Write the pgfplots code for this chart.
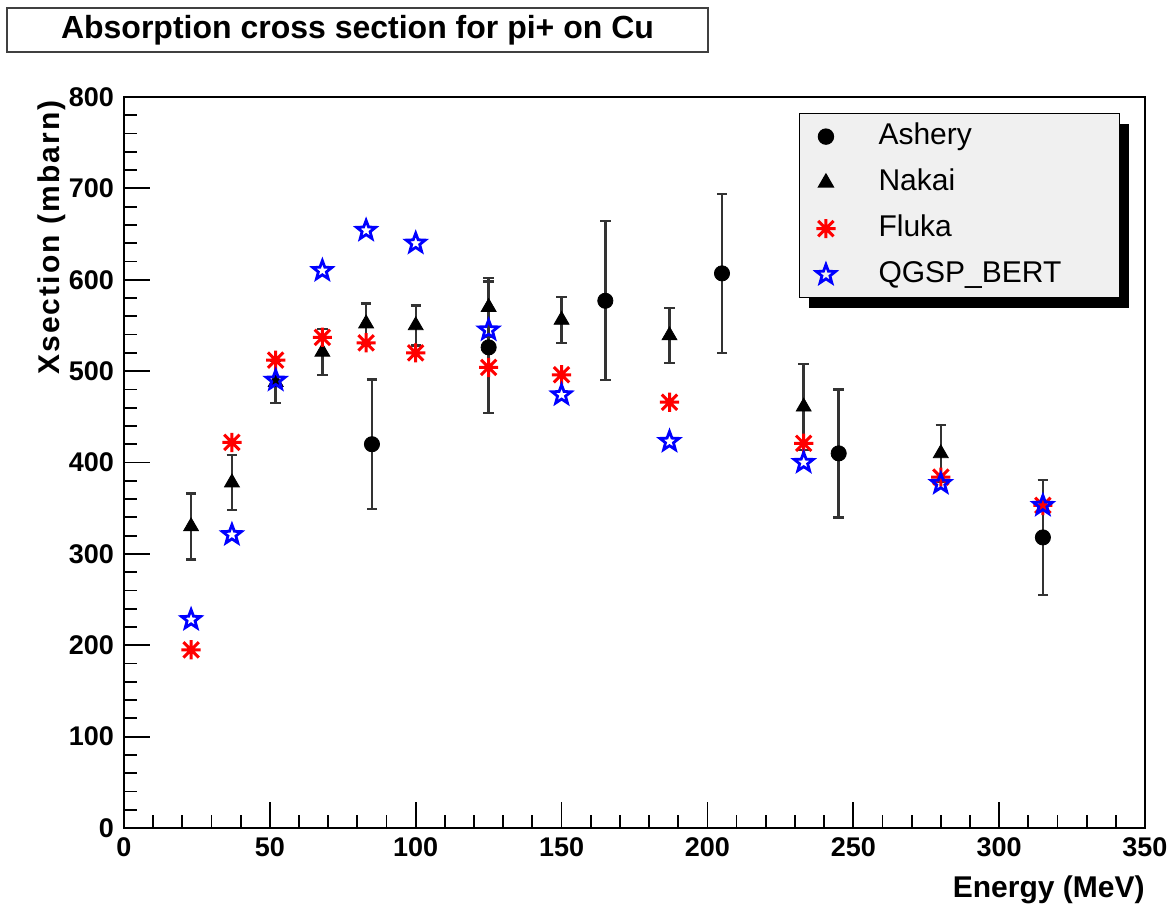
\documentclass[border=0pt]{standalone}
\usepackage{fontspec}
\setmainfont{Liberation Sans}
\usepackage{pgfplots}
\pgfplotsset{compat=1.18}
\usetikzlibrary{shadows}

\pgfdeclareplotmark{rootstar}{%
  \pgfpathmoveto{\pgfqpoint{-\pgfplotmarksize}{0pt}}%
  \pgfpathlineto{\pgfqpoint{\pgfplotmarksize}{0pt}}%
  \pgfpathmoveto{\pgfqpoint{0pt}{-\pgfplotmarksize}}%
  \pgfpathlineto{\pgfqpoint{0pt}{\pgfplotmarksize}}%
  \pgfpathmoveto{\pgfqpoint{-0.8\pgfplotmarksize}{-0.8\pgfplotmarksize}}%
  \pgfpathlineto{\pgfqpoint{0.8\pgfplotmarksize}{0.8\pgfplotmarksize}}%
  \pgfpathmoveto{\pgfqpoint{-0.8\pgfplotmarksize}{0.8\pgfplotmarksize}}%
  \pgfpathlineto{\pgfqpoint{0.8\pgfplotmarksize}{-0.8\pgfplotmarksize}}%
  \pgfusepathqstroke}

\pgfdeclareplotmark{ostar}{%
  \pgfpathmoveto{\pgfpointpolar{90}{\pgfplotmarksize}}%
  \pgfpathlineto{\pgfpointpolar{126}{0.42\pgfplotmarksize}}%
  \pgfpathlineto{\pgfpointpolar{162}{\pgfplotmarksize}}%
  \pgfpathlineto{\pgfpointpolar{198}{0.42\pgfplotmarksize}}%
  \pgfpathlineto{\pgfpointpolar{234}{\pgfplotmarksize}}%
  \pgfpathlineto{\pgfpointpolar{270}{0.42\pgfplotmarksize}}%
  \pgfpathlineto{\pgfpointpolar{306}{\pgfplotmarksize}}%
  \pgfpathlineto{\pgfpointpolar{342}{0.42\pgfplotmarksize}}%
  \pgfpathlineto{\pgfpointpolar{18}{\pgfplotmarksize}}%
  \pgfpathlineto{\pgfpointpolar{54}{0.42\pgfplotmarksize}}%
  \pgfpathclose\pgfusepathqstroke}

\pgfplotstableread{
x y e
85 420 71
125 526 72
165 577 87
205 607 87
245 410 70
315 318 63
}\ashery

\pgfplotstableread{
x y e
23 330 36
37 378 30
52 488 23
68 521 25
83 552 22
100 550 22
125 570 32
150 556 25
187 539 30
233 461 47
280 410 31
}\nakai

\pgfplotstableread{
x y
23 195
37 422
52 512
68 537
83 531
100 520
125 504
150 496
187 466
233 421
280 384
315 353
}\fluka

\pgfplotstableread{
x y
23 228
37 321
52 490
68 610
83 654
100 640
125 545
150 474
187 423
233 400
280 377
315 353
}\qgsp

\begin{document}
\begin{tikzpicture}
\begin{axis}[
  scale only axis, width=510.5pt, height=365.5pt,
  xmin=0, xmax=350, ymin=0, ymax=800,
  xtick distance=50, ytick distance=100,
  minor x tick num=4, minor y tick num=4,
  tick pos=left, tick align=inside,
  major tick length=13pt, minor tick length=6.5pt,
  axis line style={line width=1pt},
  every tick/.style={black, line width=0.9pt},
  tick label style={font=\fontsize{13.5}{16}\selectfont\bfseries},
  /pgf/number format/assume math mode=true,
  xticklabel style={yshift=-1.5pt},
  yticklabel style={xshift=-1.5pt},
  xlabel={Energy (MeV)}, ylabel={Xsection (mbarn)},
  every axis x label/.style={at={(axis description cs:1,0)}, anchor=base east, yshift=-35pt, inner sep=0pt, font=\fontsize{15}{18}\selectfont\bfseries},
  every axis y label/.style={at={(axis description cs:-0.0627,0.996)}, rotate=90, anchor=base east, inner sep=0pt, font=\fontsize{15}{18}\selectfont\bfseries\addfontfeatures{LetterSpace=7}},
  legend cell align=left,
  legend style={at={(1,1)}, anchor=north east, xshift=-12.5pt, yshift=-8pt,
    fill=black!6, draw=black, line width=0.6pt,
    inner xsep=8.5pt, inner ysep=2.5pt, row sep=5pt, column sep=19.5pt,
    nodes={inner sep=2pt, text height=11pt, text depth=3pt},
    font=\fontsize{15}{18}\selectfont,
    drop shadow={shadow xshift=5pt, shadow yshift=-5pt, fill=black, opacity=1}},
]
\addplot[only marks, mark=*, mark size=3.8pt, black,
  error bars/.cd, y dir=both, y explicit,
  error bar style={line width=1.2pt, black!80},
  error mark options={rotate=90, mark size=2.6pt, line width=1.2pt, black!80}]
  table[x=x, y=y, y error=e] {\ashery};
\addlegendentry{Ashery}
\addplot[only marks, mark=triangle*, mark size=4.3pt, black,
  error bars/.cd, y dir=both, y explicit,
  error bar style={line width=1.2pt, black!80},
  error mark options={rotate=90, mark size=2.6pt, line width=1.2pt, black!80}]
  table[x=x, y=y, y error=e] {\nakai};
\addlegendentry{Nakai}
\addplot[only marks, mark=rootstar, mark size=4.8pt, red, mark options={line width=1.5pt}]
  table[x=x, y=y] {\fluka};
\addlegendentry{Fluka}
\addplot[only marks, mark=ostar, mark size=5pt, blue, mark options={line width=1.4pt}]
  table[x=x, y=y] {\qgsp};
\addlegendentry{QGSP\_BERT\hspace*{18.5pt}}
\end{axis}
\node[draw=black!75, line width=0.8pt, minimum width=350.5pt, minimum height=22pt, inner sep=0pt,
  font=\fontsize{16}{19}\selectfont\bfseries]
  at ([xshift=116.75pt,yshift=33.5pt]current axis.north west) {Absorption cross section for pi+ on Cu};
\pgfresetboundingbox
\path[use as bounding box] ([xshift=-62pt,yshift=-41pt]current axis.south west) rectangle ++(587pt,455pt);
\end{tikzpicture}
\end{document}
